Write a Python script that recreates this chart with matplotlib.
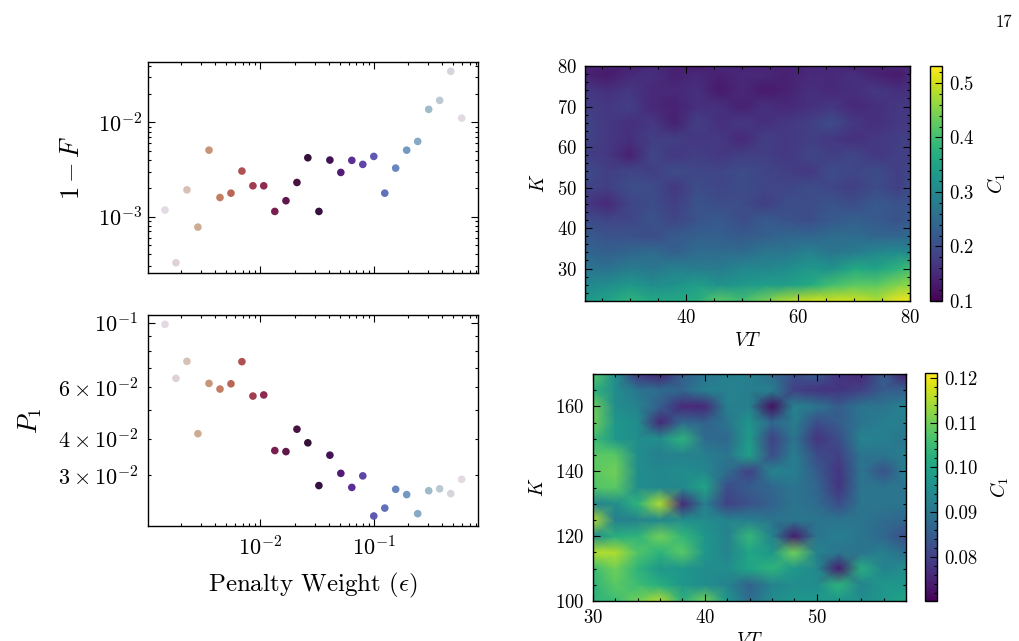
import numpy as np
import matplotlib
matplotlib.use("Agg")
import matplotlib.pyplot as plt
from matplotlib.ticker import MultipleLocator

plt.rcParams['font.family'] = 'serif'
plt.rcParams['font.serif'] = ['cmr10']
plt.rcParams['mathtext.fontset'] = 'cm'
plt.rcParams['axes.formatter.use_mathtext'] = True
plt.rcParams['axes.unicode_minus'] = False

# penalty weights and the two metrics (left panels)
eps = [0.00144, 0.0018, 0.00225, 0.00281, 0.00352, 0.0044, 0.0055, 0.00687,
       0.00859, 0.0107, 0.0134, 0.0168, 0.021, 0.0262, 0.0328, 0.041,
       0.0512, 0.064, 0.08, 0.1, 0.125, 0.156, 0.195, 0.244,
       0.305, 0.381, 0.477, 0.596]
infid = [1.18e-3, 3.26e-4, 1.93e-3, 7.78e-4, 5.08e-3, 1.60e-3, 1.78e-3, 3.05e-3,
         2.13e-3, 2.13e-3, 1.14e-3, 1.48e-3, 2.31e-3, 4.22e-3, 1.14e-3, 3.99e-3,
         2.95e-3, 3.96e-3, 3.59e-3, 4.36e-3, 1.78e-3, 3.28e-3, 5.08e-3, 6.28e-3,
         1.374e-2, 1.71e-2, 3.47e-2, 1.11e-2]
p1 = [0.0987, 0.0644, 0.0737, 0.0416, 0.0619, 0.0592, 0.0617, 0.0735,
      0.0560, 0.0565, 0.0364, 0.0361, 0.0431, 0.0387, 0.0276, 0.0351,
      0.0304, 0.0272, 0.0298, 0.0217, 0.0231, 0.0268, 0.0257, 0.0221,
      0.0265, 0.0269, 0.0259, 0.0290]

# top heatmap: C1 over VT and K
vt_a = [22, 26, 30, 34, 38, 42, 46, 50, 54, 58, 62, 66, 70, 74, 78, 80]
k_a = [22, 26, 30, 34, 38, 42, 46, 50, 54, 58, 62, 66, 70, 74, 78, 80]
c1_a = [
    [0.33, 0.35, 0.38, 0.36, 0.36, 0.37, 0.42, 0.40, 0.44, 0.48, 0.50, 0.50, 0.50, 0.48, 0.52, 0.52],
    [0.30, 0.31, 0.33, 0.31, 0.32, 0.34, 0.32, 0.33, 0.34, 0.34, 0.36, 0.40, 0.42, 0.42, 0.45, 0.46],
    [0.27, 0.26, 0.28, 0.27, 0.29, 0.28, 0.28, 0.30, 0.30, 0.31, 0.33, 0.32, 0.36, 0.35, 0.38, 0.40],
    [0.24, 0.23, 0.24, 0.25, 0.23, 0.25, 0.25, 0.25, 0.27, 0.27, 0.29, 0.27, 0.28, 0.30, 0.31, 0.30],
    [0.22, 0.21, 0.21, 0.20, 0.22, 0.23, 0.23, 0.22, 0.23, 0.24, 0.24, 0.25, 0.25, 0.24, 0.24, 0.25],
    [0.20, 0.19, 0.19, 0.21, 0.19, 0.21, 0.22, 0.20, 0.22, 0.21, 0.20, 0.22, 0.23, 0.22, 0.21, 0.22],
    [0.17, 0.15, 0.19, 0.20, 0.18, 0.21, 0.20, 0.20, 0.18, 0.20, 0.20, 0.21, 0.20, 0.22, 0.21, 0.21],
    [0.19, 0.18, 0.20, 0.20, 0.17, 0.20, 0.19, 0.20, 0.19, 0.19, 0.20, 0.19, 0.18, 0.20, 0.18, 0.20],
    [0.20, 0.18, 0.19, 0.18, 0.20, 0.19, 0.19, 0.20, 0.19, 0.18, 0.17, 0.20, 0.19, 0.20, 0.18, 0.19],
    [0.18, 0.17, 0.14, 0.19, 0.17, 0.18, 0.17, 0.18, 0.18, 0.17, 0.19, 0.18, 0.19, 0.17, 0.18, 0.18],
    [0.19, 0.17, 0.16, 0.18, 0.18, 0.17, 0.17, 0.15, 0.18, 0.17, 0.18, 0.17, 0.16, 0.17, 0.18, 0.18],
    [0.19, 0.17, 0.16, 0.17, 0.14, 0.18, 0.16, 0.17, 0.16, 0.17, 0.18, 0.20, 0.17, 0.16, 0.17, 0.17],
    [0.18, 0.17, 0.18, 0.15, 0.14, 0.16, 0.16, 0.14, 0.16, 0.15, 0.16, 0.17, 0.15, 0.16, 0.17, 0.17],
    [0.17, 0.16, 0.17, 0.15, 0.15, 0.16, 0.13, 0.15, 0.13, 0.14, 0.16, 0.15, 0.16, 0.17, 0.16, 0.16],
    [0.14, 0.13, 0.15, 0.16, 0.14, 0.15, 0.14, 0.15, 0.15, 0.14, 0.15, 0.15, 0.16, 0.14, 0.13, 0.15],
    [0.15, 0.14, 0.14, 0.15, 0.14, 0.13, 0.15, 0.14, 0.14, 0.14, 0.15, 0.15, 0.14, 0.14, 0.15, 0.15],
]

# bottom heatmap
vt_b = [30, 32, 34, 36, 38, 40, 42, 44, 46, 48, 50, 52, 54, 56, 58]
k_b = [100, 105, 110, 115, 120, 125, 130, 135, 140, 145, 150, 155, 160, 165, 170]
c1_b = [
    [0.103, 0.105, 0.110, 0.115, 0.103, 0.110, 0.097, 0.088, 0.095, 0.097, 0.097, 0.097, 0.095, 0.097, 0.100],
    [0.103, 0.108, 0.105, 0.102, 0.097, 0.095, 0.093, 0.086, 0.093, 0.095, 0.095, 0.103, 0.093, 0.097, 0.097],
    [0.105, 0.110, 0.103, 0.097, 0.097, 0.095, 0.095, 0.100, 0.103, 0.097, 0.094, 0.074, 0.102, 0.093, 0.095],
    [0.115, 0.115, 0.107, 0.103, 0.108, 0.097, 0.093, 0.100, 0.097, 0.110, 0.093, 0.090, 0.090, 0.092, 0.088],
    [0.095, 0.102, 0.103, 0.110, 0.104, 0.097, 0.093, 0.104, 0.093, 0.074, 0.090, 0.092, 0.090, 0.087, 0.082],
    [0.115, 0.092, 0.093, 0.094, 0.095, 0.095, 0.093, 0.092, 0.090, 0.090, 0.090, 0.090, 0.090, 0.088, 0.087],
    [0.093, 0.095, 0.103, 0.115, 0.076, 0.092, 0.080, 0.083, 0.086, 0.090, 0.088, 0.082, 0.090, 0.090, 0.090],
    [0.107, 0.108, 0.095, 0.094, 0.094, 0.100, 0.082, 0.085, 0.087, 0.090, 0.087, 0.078, 0.090, 0.090, 0.090],
    [0.108, 0.110, 0.095, 0.094, 0.095, 0.094, 0.088, 0.080, 0.093, 0.092, 0.085, 0.078, 0.090, 0.083, 0.092],
    [0.108, 0.108, 0.095, 0.092, 0.093, 0.092, 0.090, 0.099, 0.082, 0.092, 0.082, 0.080, 0.090, 0.090, 0.092],
    [0.105, 0.097, 0.095, 0.095, 0.103, 0.088, 0.087, 0.098, 0.080, 0.090, 0.078, 0.082, 0.093, 0.092, 0.090],
    [0.110, 0.097, 0.095, 0.076, 0.088, 0.086, 0.090, 0.097, 0.087, 0.092, 0.082, 0.085, 0.090, 0.092, 0.092],
    [0.110, 0.095, 0.093, 0.085, 0.076, 0.076, 0.092, 0.092, 0.072, 0.093, 0.090, 0.085, 0.090, 0.090, 0.093],
    [0.103, 0.095, 0.090, 0.088, 0.087, 0.092, 0.093, 0.092, 0.092, 0.080, 0.078, 0.078, 0.080, 0.085, 0.085],
    [0.108, 0.095, 0.078, 0.075, 0.085, 0.090, 0.092, 0.092, 0.088, 0.082, 0.085, 0.078, 0.076, 0.085, 0.074],
]

W, H = 1019, 641
fig = plt.figure(figsize=(W / 100, H / 100), dpi=100)


def box(x0, y0, x1, y1):
    return [x0 / W, 1 - y1 / H, (x1 - x0) / W, (y1 - y0) / H]


def style(ax, size, pad=4):
    ax.tick_params(which='both', direction='in', top=True, right=True,
                   labelsize=size, width=0.8, pad=pad)
    ax.tick_params(which='major', length=5)
    ax.tick_params(which='minor', length=2.5)
    for s in ax.spines.values():
        s.set_linewidth(1.0)


def style_cbar(cb, size):
    cb.ax.tick_params(which='both', direction='in', labelsize=size, width=0.8, pad=5)
    cb.ax.tick_params(which='major', length=5)
    cb.ax.tick_params(which='minor', length=2.5)
    cb.set_label('$C_1$', fontsize=14, labelpad=8)
    cb.outline.set_linewidth(1.0)


colors = np.arange(len(eps))

ax1 = fig.add_axes(box(148, 62, 478, 273))
ax1.scatter(eps, infid, c=colors, cmap='twilight_r', s=30, linewidths=0)
ax1.set_xscale('log')
ax1.set_yscale('log')
ax1.set_xlim(1.02e-3, 0.83)
ax1.set_ylim(2.54e-4, 4.36e-2)
ax1.set_ylabel('$1-F$', fontsize=19, labelpad=10)
ax1.tick_params(labelbottom=False)
style(ax1, 16)

ax2 = fig.add_axes(box(148, 315, 478, 526))
ax2.scatter(eps, p1, c=colors, cmap='twilight_r', s=30, linewidths=0)
ax2.set_xscale('log')
ax2.set_yscale('log')
ax2.set_xlim(1.02e-3, 0.83)
ax2.set_ylim(0.02005, 0.1063)
ax2.set_ylabel('$P_1$', fontsize=19, labelpad=10)
ax2.set_xlabel(r'Penalty Weight ($\epsilon$)', fontsize=18, labelpad=8)
style(ax2, 16, pad=7)

# top right heatmap
ax3 = fig.add_axes(box(585, 66, 910, 301))
X, Y = np.meshgrid(vt_a, k_a)
m3 = ax3.pcolormesh(X, Y, np.array(c1_a), shading='gouraud', cmap='viridis',
                    vmin=0.1, vmax=0.531)
ax3.set_xlim(22, 80)
ax3.set_ylim(22, 80)
ax3.xaxis.set_major_locator(MultipleLocator(20))
ax3.xaxis.set_minor_locator(MultipleLocator(5))
ax3.yaxis.set_major_locator(MultipleLocator(10))
ax3.yaxis.set_minor_locator(MultipleLocator(2))
ax3.set_xlabel('$VT$', fontsize=14, labelpad=3)
ax3.set_ylabel('$K$', fontsize=14, labelpad=6)
style(ax3, 13.5, pad=6)

cax3 = fig.add_axes(box(930, 66, 942, 301))
cb3 = fig.colorbar(m3, cax=cax3)
cb3.set_ticks([0.1, 0.2, 0.3, 0.4, 0.5])
cb3.ax.yaxis.set_minor_locator(MultipleLocator(0.02))
style_cbar(cb3, 13.5)

# bottom right heatmap
ax4 = fig.add_axes(box(593, 374, 906, 601))
X, Y = np.meshgrid(vt_b, k_b)
m4 = ax4.pcolormesh(X, Y, np.array(c1_b), shading='gouraud', cmap='viridis',
                    vmin=0.0701, vmax=0.1211)
ax4.set_xlim(30, 58)
ax4.set_ylim(100, 170)
ax4.xaxis.set_major_locator(MultipleLocator(10))
ax4.xaxis.set_minor_locator(MultipleLocator(2))
ax4.yaxis.set_major_locator(MultipleLocator(20))
ax4.yaxis.set_minor_locator(MultipleLocator(5))
ax4.set_xlabel('$VT$', fontsize=14, labelpad=3)
ax4.set_ylabel('$K$', fontsize=14, labelpad=6)
style(ax4, 13.5, pad=6)

cax4 = fig.add_axes(box(925, 373, 937, 601))
cb4 = fig.colorbar(m4, cax=cax4)
cb4.set_ticks([0.08, 0.09, 0.10, 0.11, 0.12])
cb4.set_ticklabels(['0.08', '0.09', '0.10', '0.11', '0.12'])
cb4.ax.yaxis.set_minor_locator(MultipleLocator(0.002))
style_cbar(cb4, 13.5)

fig.text(1012 / W, 1 - 22 / H, '17', ha='right', va='center', fontsize=12)

fig.savefig('out.png', dpi=100)
